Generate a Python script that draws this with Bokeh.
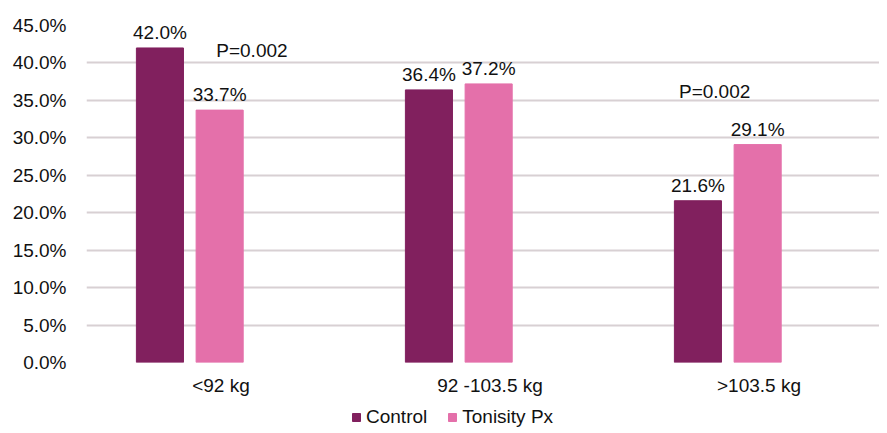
from bokeh.plotting import figure
from bokeh.layouts import column
from bokeh.models import ColumnDataSource, Range1d, FixedTicker, Legend, LegendItem, LabelSet
from bokeh.transform import dodge
from bokeh.core.properties import value
from bokeh.embed import file_html
from bokeh.resources import INLINE

categories = ["<92 kg", "92 -103.5 kg", ">103.5 kg"]
control = [42.0, 36.4, 21.6]
tonisity = [33.7, 37.2, 29.1]
y_ticks = [0, 5, 10, 15, 20, 25, 30, 35, 40, 45]
p_texts = ["P=0.002", "P=0.002"]
p_groups = [0, 2]

FONT = "Liberation Sans"
FS = "19px"
TXT = "#111111"
C_CONTROL = "#81205E"
C_TONI = "#E470AA"
GRID = "#D8D0D3"

xs = [i + 0.5 for i in range(len(categories))]
src = ColumnDataSource(dict(
    x=xs,
    control=control,
    tonisity=tonisity,
    control_lbl=[f"{v:.1f}%" for v in control],
    tonisity_lbl=[f"{v:.1f}%" for v in tonisity],
))

W = 879
H_MAIN, H_LEG = 401, 27
LEFT, TOP, BOTTOM = 86, 25, H_MAIN - 362
cat_px = 269.0
frame_w = W - LEFT
p = figure(width=W, height=H_MAIN, output_backend="svg", toolbar_location=None,
           x_range=Range1d(0, frame_w / cat_px), y_range=Range1d(0, 45),
           min_border_left=LEFT, min_border_right=0, min_border_top=TOP, min_border_bottom=BOTTOM)
p.outline_line_color = None
p.background_fill_color = "white"

bw = 0.175
p.vbar(x=dodge("x", -0.227, range=p.x_range), top="control", width=bw, source=src,
       fill_color=C_CONTROL, line_color=C_CONTROL)
p.vbar(x=dodge("x", -0.005, range=p.x_range), top="tonisity", width=bw, source=src,
       fill_color=C_TONI, line_color=C_TONI)

for off, col, lbl in [(-0.227, "control", "control_lbl"), (-0.005, "tonisity", "tonisity_lbl")]:
    p.add_layout(LabelSet(x=dodge("x", off, range=p.x_range), y=col, text=lbl, source=src,
                          text_font=value(FONT), text_font_size=value(FS), text_align="center",
                          text_baseline="bottom", y_offset=5, text_color=TXT))

p_src = ColumnDataSource(dict(
    x=[xs[p_groups[0]] + 0.115, xs[p_groups[1]] - 0.165],
    y=[41.7, 36.2],
    t=p_texts,
))
p.text(x="x", y="y", text="t", source=p_src, text_font=value(FONT), text_font_size=FS,
       text_align="center", text_baseline="middle", text_color=TXT)

# axes
p.yaxis.ticker = FixedTicker(ticks=y_ticks)
p.yaxis.major_label_overrides = {t: f"{t:.1f}%" for t in y_ticks}
p.yaxis.axis_line_color = None
p.yaxis.major_tick_line_color = None
p.yaxis.minor_tick_line_color = None
p.yaxis.major_label_standoff = 14
p.yaxis.major_label_text_font = FONT
p.yaxis.major_label_text_font_size = FS
p.yaxis.major_label_text_color = TXT

p.xaxis.ticker = FixedTicker(ticks=xs)
p.xaxis.major_label_overrides = {x: c for x, c in zip(xs, categories)}
p.xaxis.axis_line_color = None
p.xaxis.major_tick_line_color = None
p.xaxis.minor_tick_line_color = None
p.xaxis.major_label_standoff = 6
p.xaxis.major_label_text_font = FONT
p.xaxis.major_label_text_font_size = FS
p.xaxis.major_label_text_color = TXT

p.xgrid.grid_line_color = None
p.ygrid.ticker = FixedTicker(ticks=y_ticks)
p.ygrid.grid_line_color = GRID
p.ygrid.grid_line_width = 2

# legend strip (separate figure so the legend is not clipped)
pl = figure(width=W, height=H_LEG, output_backend="svg", toolbar_location=None,
            x_range=Range1d(100, 101), y_range=Range1d(100, 101),
            min_border_left=0, min_border_right=0, min_border_top=0, min_border_bottom=0)
pl.axis.visible = False
pl.grid.visible = False
pl.outline_line_color = None
lr1 = pl.vbar(x="x", top="control", width=bw, source=src, fill_color=C_CONTROL, line_color=C_CONTROL)
lr2 = pl.vbar(x="x", top="tonisity", width=bw, source=src, fill_color=C_TONI, line_color=C_TONI)
legend = Legend(items=[LegendItem(label="Control", renderers=[lr1]),
                       LegendItem(label="Tonisity Px", renderers=[lr2])],
                location=(265, 0), orientation="horizontal",
                glyph_width=10, glyph_height=10, label_standoff=5, spacing=20,
                padding=0, margin=0, border_line_color=None, background_fill_alpha=0,
                label_text_font=FONT, label_text_font_size=FS, label_text_color=TXT,
                label_height=18)
pl.add_layout(legend, "center")

page = column(p, pl, spacing=0)
open("out.html", "w").write(file_html(page, INLINE))
